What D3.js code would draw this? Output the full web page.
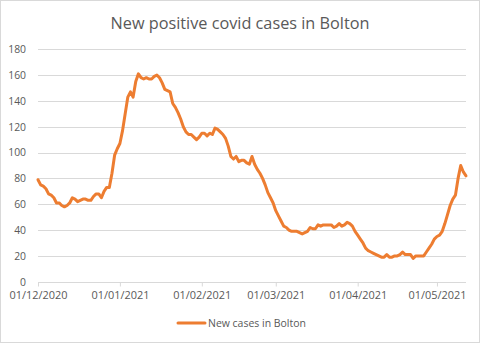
<!DOCTYPE html>
<html>
<head>
<meta charset="utf-8">
<script src="https://cdn.jsdelivr.net/npm/d3@7"></script>
<style>
  html, body { margin: 0; padding: 0; background: #fff; }
  svg { display: block; }
  text { font-family: "Open Sans", "Liberation Sans", sans-serif; fill: #595959; }
</style>
</head>
<body>
<svg id="chart" width="480" height="343"></svg>
<script>
// ---- Data ----
const title = "New positive covid cases in Bolton";
const seriesName = "New cases in Bolton";
const startDate = "2020-12-01";
const newCases = [
  79, 75, 74, 72, 68, 67, 65, 61, 61, 59,
  58, 59, 61, 65, 64, 62, 63, 64, 64, 63,
  63, 66, 68, 68, 65, 70, 73, 73, 84, 98,
  103, 107, 117, 130, 143, 147, 143, 155, 161, 158,
  157, 158, 157, 157, 159, 160, 158, 154, 149, 148,
  147, 138, 135, 131, 126, 120, 116, 114, 114, 112,
  110, 112, 115, 115, 113, 115, 114, 119, 118, 116,
  114, 111, 105, 97, 95, 97, 93, 94, 94, 92,
  91, 97, 91, 87, 84, 80, 75, 69, 65, 61,
  55, 51, 47, 43, 42, 40, 39, 39, 39, 38,
  37, 38, 39, 42, 41, 41, 44, 43, 44, 44,
  44, 44, 42, 43, 45, 43, 44, 46, 45, 43,
  39, 36, 33, 30, 26, 24, 23, 22, 21, 20,
  19, 19, 21, 19, 19, 20, 20, 21, 23, 21,
  21, 21, 18, 20, 20, 20, 20, 23, 26, 29,
  33, 35, 36, 39, 45, 52, 59, 64, 67, 80,
  90, 85, 82
];
const yTicks = [0, 20, 40, 60, 80, 100, 120, 140, 160, 180];

// ---- Build ----
const svg = d3.select("#chart");
const W = 480, H = 343;
const x0 = 38, x1 = 466, yTop = 49.3, yBot = 281.7;

const start = new Date(startDate + "T00:00:00Z");
const data = newCases.map((v, i) => ({ date: d3.utcDay.offset(start, i), value: v }));

const x = d3.scaleUtc()
  .domain([data[0].date, data[data.length - 1].date])
  .range([x0, x1]);
const y = d3.scaleLinear().domain([0, 180]).range([yBot, yTop]);

// border
svg.append("rect").attr("x", 0.5).attr("y", 0.5).attr("width", W - 1).attr("height", H - 1)
  .attr("fill", "#fff").attr("stroke", "#d9d9d9");

// title
const t = svg.append("text").attr("x", 240).attr("y", 29).attr("text-anchor", "middle")
  .style("font-size", "18px").text(title);
{
  const len = t.node().getComputedTextLength();
  t.style("font-size", (18 * 259 / len).toFixed(2) + "px");
}

// gridlines
svg.append("g").selectAll("line").data(yTicks.filter(d => d > 0)).join("line")
  .attr("x1", x0).attr("x2", x1)
  .attr("y1", d => Math.round(y(d)) + 0.5).attr("y2", d => Math.round(y(d)) + 0.5)
  .attr("stroke", "#d9d9d9").attr("stroke-width", 1);

// x axis
const xAxis = svg.append("g").attr("transform", `translate(0,${Math.round(yBot) + 0.5})`)
  .call(d3.axisBottom(x).ticks(d3.utcMonth.every(1)).tickFormat(d3.utcFormat("%d/%m/%Y"))
    .tickSizeInner(4).tickSizeOuter(0).tickPadding(5));
xAxis.select(".domain").attr("stroke", "#d9d9d9").attr("d", `M${x0},0H${x1}`);
xAxis.selectAll(".tick line").attr("stroke", "#d9d9d9");
xAxis.selectAll("text").style("font-size", "11px").attr("fill", "#595959")
  .style("font-family", "'Open Sans', sans-serif");
let fs;
{
  const n = xAxis.select("text").node();
  const len = n.getComputedTextLength();
  fs = 11 * 58 / len;
  xAxis.selectAll("text").style("font-size", fs.toFixed(2) + "px");
}

// y axis labels
const yAxis = svg.append("g").attr("transform", `translate(${x0},0)`)
  .call(d3.axisLeft(y).tickValues(yTicks).tickSize(0).tickPadding(12));
yAxis.select(".domain").remove();
yAxis.selectAll("text").attr("fill", "#595959")
  .style("font-family", "'Open Sans', sans-serif")
  .style("font-size", (fs * 0.95).toFixed(2) + "px");

// line
const line = d3.line().x(d => x(d.date)).y(d => y(d.value));
svg.append("path").datum(data).attr("d", line)
  .attr("fill", "none").attr("stroke", "#ed7d31").attr("stroke-width", 3)
  .attr("stroke-linejoin", "round").attr("stroke-linecap", "round");

// legend
svg.append("line").attr("x1", 178).attr("x2", 205).attr("y1", 323).attr("y2", 323)
  .attr("stroke", "#ed7d31").attr("stroke-width", 3).attr("stroke-linecap", "round");
const lt = svg.append("text").attr("x", 208).attr("y", 327).style("font-size", "11px").text(seriesName);
{
  const len = lt.node().getComputedTextLength();
  lt.style("font-size", (11 * 98 / len).toFixed(2) + "px");
}
</script>
</body>
</html>
